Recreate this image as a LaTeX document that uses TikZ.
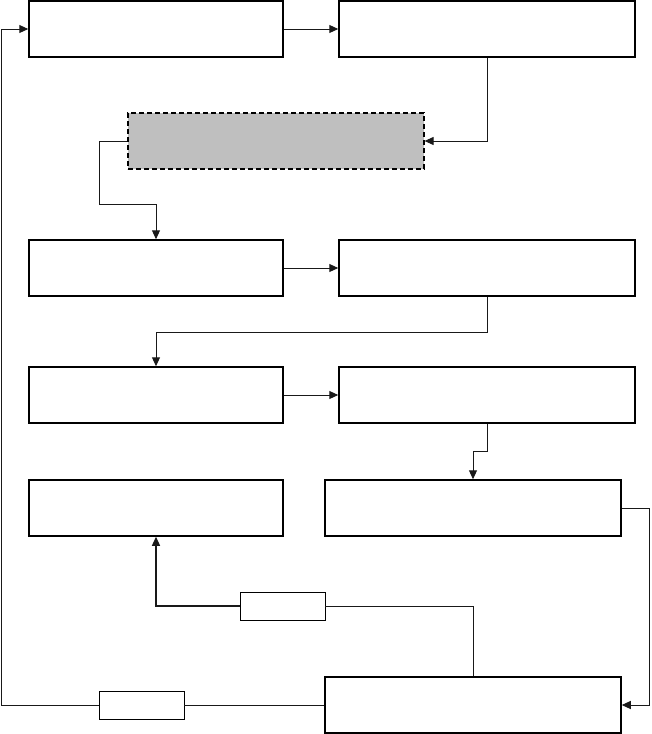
\documentclass[tikz,border=0pt]{standalone}
\usepackage{tikz}
\usetikzlibrary{positioning,arrows.meta,calc}

\begin{document}
\begin{tikzpicture}[
  x=1pt, y=-1pt,
  n/.style={draw, line width=1.5pt, minimum height=56pt, inner sep=0pt},
  nl/.style={n, minimum width=254pt},
  nr/.style={n, minimum width=296pt},
  opt/.style={draw, dash pattern=on 5pt off 3pt, line width=1.2pt,
              fill=gray!50, minimum width=296pt, minimum height=56pt, inner sep=0pt},
  tag/.style={draw, line width=0.9pt, minimum width=85pt, minimum height=28pt, inner sep=0pt},
  arr/.style={-{Triangle[length=9pt,width=8pt]}, line width=1pt, black!90},
  ln/.style={line width=1pt, black!90},
]
\useasboundingbox (0,0) rectangle (651,734);

% --- rows of boxes ---
\node[nl]  (a) at (156,29)  {};
\node[nr]  (b) at (487,29)  {};
\node[opt] (g) at (276,141) {};
\node[nl]  (c) at (156,268) {};
\node[nr]  (d) at (487,268) {};
\node[nl]  (e) at (156,395) {};
\node[nr]  (f) at (487,395) {};
\node[nl]  (i) at (156,508) {};
\node[nr]  (h) at (473,508) {};
\node[nr]  (j) at (473,705) {};
\node[tag] (k) at (282.5,606) {};
\node[tag] (l) at (141.5,705) {};

% --- forward flow ---
\foreach \x/\y in {a/b,c/d,e/f} \draw[arr] (\x.east) -- (\y.west);
\draw[arr] (b.south) |- (g.east);
\draw[arr] (g.west) -- ++(-28,0) -- ++(0,63) -| (c.north);
\draw[arr] (d.south) -- ++(0,36) -| (e.north);
\draw[arr] (f.south) -- ++(0,28) -| (h.north);
\draw[arr] (h.east) -- ++(28,0) |- (j.east);

% --- feedback ---
\draw[ln]  (j.north) |- (k.east);
\draw[arr, line width=1.3pt] (k.west) -| (i.south);
\draw[ln]  (j.west) -- (l.east);
\draw[arr] (l.west) -- ++(-97,0) |- (a.west);
\end{tikzpicture}
\end{document}
